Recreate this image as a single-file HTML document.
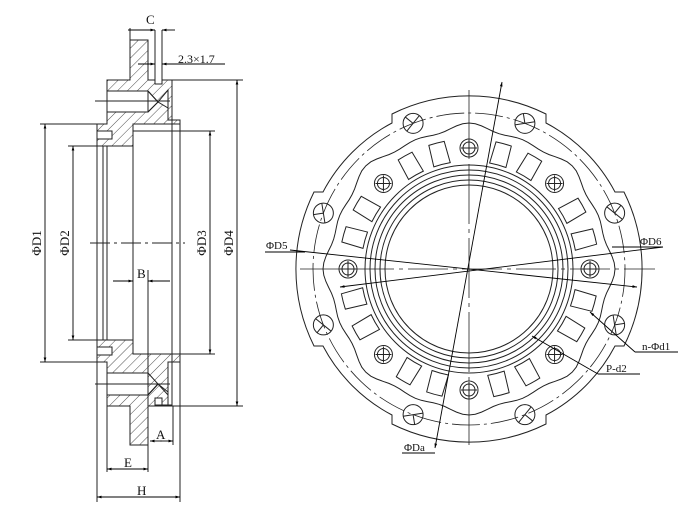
<!DOCTYPE html>
<html><head><meta charset="utf-8"><style>
html,body{margin:0;padding:0;background:#fff;}
svg{display:block;}
text{font-family:"Liberation Serif",serif;fill:#111;}
</style></head><body>
<svg id="s" width="699" height="511" viewBox="0 0 699 511" xmlns="http://www.w3.org/2000/svg">
<defs>
<pattern id="h" width="7" height="7" patternUnits="userSpaceOnUse" patternTransform="rotate(45)">
<line x1="0" y1="0" x2="0" y2="7" stroke="#222" stroke-width="0.8"/>
</pattern>
<marker id="a" viewBox="0 0 10 10" refX="10" refY="5" markerWidth="7" markerHeight="5" orient="auto-start-reverse"><path d="M0,2 L10,5 L0,8z" fill="#000"/></marker>
</defs>
<g stroke="#222" stroke-width="1" fill="none">
<path fill="url(#h)" d="M130,40 H148 V80 H155 V84 H162 V80 H172 V120 H168 V90 L158,102 L148,91 H107 V80 H130Z"/>
<path fill="url(#h)" d="M107,112 H148 L158,102 L168,108 V120 H180 V124 H133 V146 H97 V124 H107Z"/>
<path fill="url(#h)" d="M97,340 H133 V354 H180 V362 H168 V395 L158,384 L148,395 H107 V362 H97Z" />
<path fill="url(#h)" d="M107,395 H148 L158,384 L168,392 V405 H162 V398 H155 V405 H172 V406 H148 V445 H130 V406 H107Z"/>
<rect x="107" y="91" width="41" height="21" fill="#fff"/>
<path d="M148,91 L158,102 L148,112"/>
<rect x="107" y="373" width="41" height="22" fill="#fff"/>
<path d="M148,373 L158,384 L148,395"/>
<line x1="95" y1="101" x2="170" y2="101"/><line x1="95" y1="384" x2="170" y2="384"/>
<rect x="97" y="131" width="15" height="8" fill="#fff"/>
<rect x="97" y="347" width="15" height="8" fill="#fff"/>
<line x1="97" y1="124" x2="97" y2="362"/>
<line x1="103" y1="146" x2="103" y2="340"/>
<line x1="107" y1="146" x2="107" y2="340"/>
<line x1="133" y1="131" x2="133" y2="354"/>
<line x1="180" y1="124" x2="180" y2="362"/>
<line x1="133" y1="131" x2="180" y2="131"/>
<line x1="107" y1="146" x2="133" y2="146"/>
<line x1="107" y1="340" x2="133" y2="340"/>
<line x1="172" y1="80" x2="172" y2="406"/>
<line x1="162" y1="30" x2="162" y2="84"/><line x1="155" y1="30" x2="155" y2="84"/>
<line x1="90" y1="243" x2="185" y2="243" stroke-dasharray="20,4,3,4"/>
<line x1="148" y1="270" x2="148" y2="460"/>
<line x1="40" y1="124" x2="97" y2="124"/><line x1="40" y1="362" x2="97" y2="362"/>
<line x1="68" y1="146" x2="107" y2="146"/><line x1="68" y1="340" x2="107" y2="340"/>
<line x1="180" y1="131" x2="215" y2="131"/><line x1="180" y1="354" x2="215" y2="354"/>
<line x1="172" y1="80" x2="243" y2="80"/><line x1="172" y1="406" x2="243" y2="406"/>
<line x1="97" y1="362" x2="97" y2="502"/><line x1="180" y1="362" x2="180" y2="502"/>
<line x1="107" y1="406" x2="107" y2="472"/><line x1="148" y1="406" x2="148" y2="472"/>
<line x1="173" y1="406" x2="173" y2="445"/>
<line x1="130" y1="28" x2="130" y2="40"/>
</g>
<g stroke="#000" stroke-width="0.9" fill="none">
<line x1="45" y1="124" x2="45" y2="362" marker-start="url(#a)" marker-end="url(#a)"/>
<line x1="73" y1="146" x2="73" y2="340" marker-start="url(#a)" marker-end="url(#a)"/>
<line x1="210" y1="131" x2="210" y2="354" marker-start="url(#a)" marker-end="url(#a)"/>
<line x1="237" y1="80" x2="237" y2="406" marker-start="url(#a)" marker-end="url(#a)"/>
<line x1="97" y1="497" x2="180" y2="497" marker-start="url(#a)" marker-end="url(#a)"/>
<line x1="107" y1="469" x2="148" y2="469" marker-start="url(#a)" marker-end="url(#a)"/>
<line x1="128" y1="30" x2="155" y2="30" marker-end="url(#a)"/><line x1="175" y1="30" x2="162" y2="30" marker-end="url(#a)"/>
<line x1="138" y1="64" x2="155" y2="64" marker-end="url(#a)"/><line x1="225" y1="64" x2="162" y2="64" marker-end="url(#a)"/>
<line x1="113" y1="281" x2="133" y2="281" marker-end="url(#a)"/><line x1="170" y1="281" x2="148" y2="281" marker-end="url(#a)"/>
<line x1="162" y1="441" x2="150" y2="441" marker-end="url(#a)"/><line x1="160" y1="441" x2="173" y2="441" marker-end="url(#a)"/>
</g>
<g font-size="13">
<text x="146" y="24">C</text>
<text x="178" y="63" font-size="12">2.3×1.7</text>
<text x="137" y="278">B</text>
<text x="156" y="439">A</text>
<text x="124" y="467">E</text>
<text x="137" y="495">H</text>
<text transform="translate(41,243) rotate(-90)" text-anchor="middle">ΦD1</text>
<text transform="translate(69,243) rotate(-90)" text-anchor="middle">ΦD2</text>
<text transform="translate(206,243) rotate(-90)" text-anchor="middle">ΦD3</text>
<text transform="translate(233,243) rotate(-90)" text-anchor="middle">ΦD4</text>
</g>

<g stroke="#222" stroke-width="1" fill="none" id="rv">
<path d="M392,114 A173,173 0 0 1 546,114 V123 A165,165 0 0 1 615,192 H624 A173,173 0 0 1 624,346 H615 A165,165 0 0 1 546,415 V424 A173,173 0 0 1 392,424 V415 A165,165 0 0 1 323,346 H314 A173,173 0 0 1 314,192 H323 A165,165 0 0 1 392,123 Z"/>
<circle cx="469" cy="269" r="156" stroke-dasharray="28,4,3,4" stroke-width="0.8"/>
<circle cx="469" cy="269" r="84"/>
<circle cx="469" cy="269" r="89"/>
<circle cx="469" cy="269" r="94"/>
<circle cx="469" cy="269" r="99"/>
<circle cx="469" cy="269" r="104"/>
<line x1="300" y1="269" x2="655" y2="269" stroke-dasharray="40,5,4,5" stroke-width="0.8"/>
<line x1="469" y1="90" x2="469" y2="445" stroke-dasharray="60,5,4,5" stroke-width="0.8"/>
</g>
<g stroke="#000" stroke-width="0.9" fill="none">
<line x1="265" y1="252" x2="305" y2="252"/>
<line x1="290" y1="250" x2="637" y2="287" marker-end="url(#a)"/>
<line x1="612" y1="247" x2="663" y2="247"/>
<line x1="663" y1="247" x2="340" y2="287" marker-end="url(#a)"/>
<line x1="502" y1="82" x2="435" y2="448" marker-start="url(#a)" marker-end="url(#a)"/>
<line x1="402" y1="453" x2="435" y2="453"/>
<line x1="678" y1="352" x2="635" y2="352"/><line x1="635" y1="352" x2="590" y2="312" marker-end="url(#a)"/>
<line x1="640" y1="374" x2="598" y2="374"/><line x1="598" y1="374" x2="532" y2="336" marker-end="url(#a)"/>
</g>
<g font-size="11">
<text x="266" y="249">ΦD5</text>
<text x="640" y="245">ΦD6</text>
<text x="642" y="350">n-Φd1</text>
<text x="606" y="372">P-d2</text>
<text x="404" y="451">ΦDa</text>
</g>
<script>
(function(){
var g=document.getElementById('rv'),ns='http://www.w3.org/2000/svg',cx=469,cy=269;
function el(t,a){var e=document.createElementNS(ns,t);for(var k in a)e.setAttribute(k,a[k]);g.appendChild(e);return e;}
function P(r,d){var t=d*Math.PI/180;return [cx+r*Math.cos(t),cy+r*Math.sin(t)];}
var s='';for(var i=0;i<=144;i++){var d=i*360/144;var r=141+3*Math.cos(8*d*Math.PI/180)+2*Math.cos(16*d*Math.PI/180);var p=P(r,d);s+=(i?'L':'M')+p[0].toFixed(1)+','+p[1].toFixed(1);}
el('path',{d:s+'Z'});
for(var k=0;k<8;k++){[11,26].forEach(function(o){var a1=k*45+o,a2=a1+9;var p1=P(108,a1),p2=P(130,a1+1),p3=P(130,a2-1),p4=P(108,a2);
el('path',{d:'M'+p1+' L'+p2+' A130,130 0 0 1 '+p3+' L'+p4+' A108,108 0 0 0 '+p1+'Z'});});}
for(var k=0;k<8;k++){var p=P(121,k*45);el('circle',{cx:p[0],cy:p[1],r:9});el('circle',{cx:p[0],cy:p[1],r:6});
el('line',{x1:p[0]-8,y1:p[1],x2:p[0]+8,y2:p[1]});el('line',{x1:p[0],y1:p[1]-8,x2:p[0],y2:p[1]+8});}
[-69,-111,-21,21,69,111,159,201].forEach(function(d){var p=P(156,d);el('circle',{cx:p[0],cy:p[1],r:10});
var q=P(10,d+60);el('line',{x1:p[0]-(q[0]-cx),y1:p[1]-(q[1]-cy),x2:p[0]+(q[0]-cx),y2:p[1]+(q[1]-cy)});
var r=P(10,d-30);el('line',{x1:p[0],y1:p[1],x2:p[0]+(r[0]-cx),y2:p[1]+(r[1]-cy)});});
})();
</script>
</svg>
</body></html>
